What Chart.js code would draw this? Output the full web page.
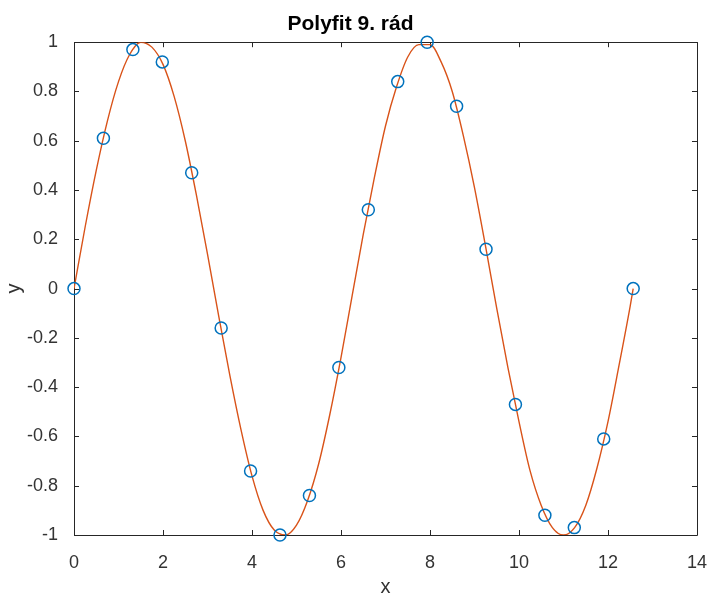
<!DOCTYPE html>
<html>
<head>
<meta charset="utf-8">
<title>Polyfit 9. rád</title>
<script src="https://cdn.jsdelivr.net/npm/chart.js@4.4.1/dist/chart.umd.min.js"></script>
<style>
  html, body { margin: 0; padding: 0; background: #fff; }
  #wrap { width: 716px; height: 595px; }
</style>
</head>
<body>
<div id="wrap"><canvas id="fitChart" width="716" height="595"></canvas></div>
<script>
// measured samples (circles)
const sampleX = [0, 0.661, 1.323, 1.984, 2.645, 3.307, 3.968, 4.629, 5.291, 5.952,
                 6.614, 7.275, 7.936, 8.598, 9.259, 9.920, 10.582, 11.243, 11.904, 12.566];
const sampleY = [0, 0.61, 0.97, 0.92, 0.47, -0.16, -0.74, -1.00, -0.84, -0.32,
                 0.32, 0.84, 1.00, 0.74, 0.16, -0.47, -0.92, -0.97, -0.61, 0];

// fitted curve (polyfit 9th order)
const fitX = [0, 0.25, 0.5, 0.75, 1, 1.25, 1.5, 1.75, 2, 2.25, 2.5, 2.75, 3, 3.25, 3.5, 3.75,
              4, 4.25, 4.5, 4.75, 5, 5.25, 5.5, 5.75, 6, 6.25, 6.5, 6.75, 7, 7.25, 7.5, 7.75,
              8, 8.25, 8.5, 8.75, 9, 9.25, 9.5, 9.75, 10, 10.25, 10.5, 10.75, 11, 11.25, 11.5,
              11.75, 12, 12.25, 12.5, 12.566];
const fitY = [0, 0.25, 0.48, 0.68, 0.84, 0.95, 1.00, 0.98, 0.91, 0.78, 0.60, 0.38, 0.14, -0.11, -0.35, -0.57,
              -0.76, -0.90, -0.98, -1.00, -0.96, -0.86, -0.71, -0.51, -0.28, -0.03, 0.22, 0.45, 0.66, 0.82, 0.94, 0.99,
              0.99, 0.92, 0.80, 0.62, 0.41, 0.17, -0.08, -0.32, -0.54, -0.74, -0.88, -0.97, -1.00, -0.97, -0.88,
              -0.73, -0.54, -0.31, -0.07, 0];

const xTicks = [0, 2, 4, 6, 8, 10, 12, 14];
const yTicks = [-1, -0.8, -0.6, -0.4, -0.2, 0, 0.2, 0.4, 0.6, 0.8, 1];

const axisColor = '#262626';
const fontFamily = 'Arial, "Liberation Sans", Helvetica, sans-serif';

// MATLAB-like box with inward ticks on all four sides
const boxPlugin = {
    id: 'matlabBox',
    beforeDatasetsDraw(chart) {
        const {ctx, chartArea: a, scales} = chart;
        const tl = 5;
        ctx.save();
        ctx.strokeStyle = axisColor;
        ctx.lineWidth = 1;
        ctx.beginPath();
        ctx.rect(Math.round(a.left) + 0.5, Math.round(a.top) + 0.5,
                 Math.round(a.right - a.left), Math.round(a.bottom - a.top));
        xTicks.forEach(v => {
            const px = Math.round(scales.x.getPixelForValue(v)) + 0.5;
            ctx.moveTo(px, a.bottom); ctx.lineTo(px, a.bottom - tl);
            ctx.moveTo(px, a.top); ctx.lineTo(px, a.top + tl);
        });
        yTicks.forEach(v => {
            const py = Math.round(scales.y.getPixelForValue(v)) + 0.5;
            ctx.moveTo(a.left, py); ctx.lineTo(a.left + tl, py);
            ctx.moveTo(a.right, py); ctx.lineTo(a.right - tl, py);
        });
        ctx.stroke();
        ctx.restore();
    }
};

const ctx = document.getElementById('fitChart').getContext('2d');
const chart = new Chart(ctx, {
    type: 'scatter',
    data: {
        datasets: [{
            label: 'polyfit',
            data: fitX.map((x, i) => ({x: x, y: fitY[i]})),
            showLine: true,
            borderColor: '#D95319',
            borderWidth: 1.4,
            pointRadius: 0,
            cubicInterpolationMode: 'monotone',
            order: 2
        }, {
            label: 'data',
            data: sampleX.map((x, i) => ({x: x, y: sampleY[i]})),
            showLine: false,
            pointStyle: 'circle',
            pointRadius: 6,
            pointBorderWidth: 1.5,
            borderColor: '#0072BD',
            backgroundColor: 'rgba(0,0,0,0)',
            clip: false,
            order: 1
        }]
    },
    options: {
        responsive: false,
        animation: false,
        layout: { padding: { left: 0, right: 15, top: 0, bottom: 0 } },
        plugins: {
            legend: { display: false },
            tooltip: { enabled: false },
            title: {
                display: true,
                text: 'Polyfit 9. rád',
                color: '#000',
                font: { family: fontFamily, size: 21, weight: 'bold', lineHeight: 1.2 },
                padding: { top: 12, bottom: 5 }
            }
        },
        scales: {
            x: {
                type: 'linear',
                min: 0,
                max: 14,
                afterFit: s => { s.height = 60; },
                afterBuildTicks: s => { s.ticks = xTicks.map(v => ({value: v})); },
                grid: { display: false },
                border: { display: false },
                ticks: {
                    color: '#333',
                    padding: 9,
                    maxRotation: 0,
                    font: { family: fontFamily, size: 18 }
                },
                title: {
                    display: true,
                    text: 'x',
                    color: '#333',
                    font: { family: fontFamily, size: 20, lineHeight: 0.8 },
                    padding: { top: 0, bottom: 0 }
                }
            },
            y: {
                type: 'linear',
                min: -1,
                max: 1,
                afterFit: s => { s.width = 74; },
                afterBuildTicks: s => { s.ticks = yTicks.map(v => ({value: v})); },
                grid: { display: false },
                border: { display: false },
                ticks: {
                    color: '#333',
                    padding: 8,
                    font: { family: fontFamily, size: 18 },
                    callback: v => String(Math.round(v * 10) / 10)
                },
                title: {
                    display: true,
                    text: 'y',
                    color: '#333',
                    font: { family: fontFamily, size: 20, lineHeight: 1 },
                    padding: { top: 4, bottom: 0 }
                }
            }
        }
    },
    plugins: [boxPlugin]
});
</script>
</body>
</html>
